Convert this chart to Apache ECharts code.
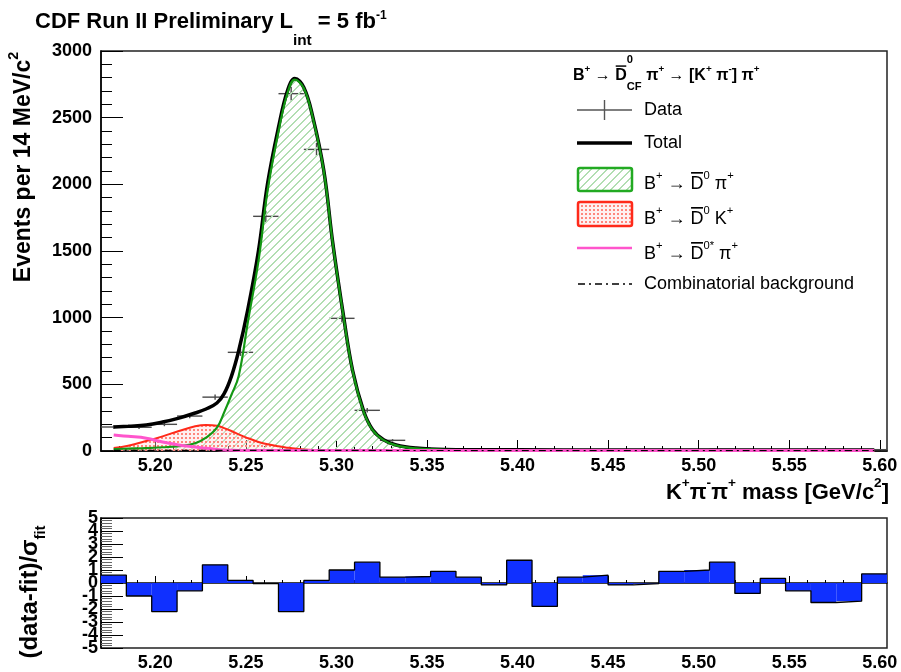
<!DOCTYPE html>
<html>
<head>
<meta charset="utf-8">
<script src="https://cdn.jsdelivr.net/npm/echarts@6/dist/echarts.min.js"></script>
<style>
  html, body { margin: 0; padding: 0; background: #fff; }
  #chart { width: 901px; height: 672px; }
</style>
</head>
<body>
<div id="chart"></div>
<script>
// binning of the K pi pi mass histogram: 31 bins of 14 MeV
const binLow = 5.170;
const binWidth = 0.014;
const xMax = 5.604;

const dataCounts = [180, 178, 200, 262, 404, 740, 1760, 2680, 2262, 995, 305, 80, 22, 14, 10, 8,
  12, 6, 10, 10, 8, 8, 10, 10, 12, 6, 9, 7, 5, 5, 10];
const dataErrors = [13, 13, 14, 16, 20, 27, 42, 52, 48, 32, 17, 9, 5, 4, 3, 3,
  3, 2, 3, 3, 3, 3, 3, 3, 3, 2, 3, 3, 2, 2, 3];
// (data-fit)/sigma per bin
const pulls = [0.6, -1.0, -2.2, -0.6, 1.4, 0.2, -0.05, -2.2, 0.2, 1.0, 1.6, 0.45, 0.5, 0.9, 0.45, -0.15,
  1.75, -1.8, 0.45, 0.6, -0.15, -0.05, 0.9, 1.0, 1.6, -0.8, 0.35, -0.6, -1.5, -1.4, 0.7];

// fit curves
const curveX = [5.177, 5.185, 5.195, 5.204, 5.213, 5.222, 5.228, 5.234, 5.238, 5.242,
  5.246, 5.251, 5.257, 5.262, 5.268, 5.273, 5.277, 5.282, 5.287, 5.293,
  5.298, 5.304, 5.309, 5.315, 5.320, 5.326, 5.333, 5.344, 5.36, 5.40,
  5.45, 5.50, 5.55, 5.597];
const totalFit = [180, 186, 195, 217, 247, 285, 315, 360, 430, 560,
  750, 1056, 1505, 2007, 2427, 2704, 2794, 2726, 2502, 2105,
  1558, 1004, 600, 300, 160, 85, 45, 22, 12, 9, 8, 8, 8, 8];
const sigFit = [15, 18, 22, 28, 36, 58, 100, 175, 290, 420,
  560, 960, 1430, 1955, 2395, 2685, 2785, 2720, 2496, 2100,
  1554, 1000, 596, 296, 157, 82, 42, 19, 9, 5, 4, 3, 2, 2];
const dkFit = [22, 40, 75, 110, 150, 185, 195, 190, 172, 150,
  125, 97, 68, 50, 35, 25, 18, 12, 8, 5,
  3, 2, 1, 1, 0.5, 0, 0, 0, 0, 0, 0, 0, 0, 0];
const dstarFit = [120, 110, 96, 67, 45, 30, 20, 12, 7, 5,
  4, 4, 4, 4, 4, 4, 4, 4, 4, 4,
  4, 4, 4, 4, 4, 4, 4, 4, 4, 4, 4, 4, 4, 4];
const combFit = [4, 4, 4, 4, 4, 4, 4, 4, 4, 4,
  4, 4, 4, 4, 4, 4, 4, 4, 4, 4,
  4, 4, 4, 4, 4, 4, 3.8, 3.7, 3.6, 3.5, 3.4, 3.3, 3.2, 3.1];

const xTickLabels = [5.20, 5.25, 5.30, 5.35, 5.40, 5.45, 5.50, 5.55, 5.60];
const pullLabelsOdd = [-5, -3, -1, 1, 3, 5];
const pullLabelsEven = [-4, -2, 0, 2, 4];

const FAM = '"Liberation Sans", Arial, Helvetica, sans-serif';
const binCenters = dataCounts.map((_, i) => +(binLow + binWidth * (i + 0.5)).toFixed(4));
const minorX = [];
for (let v = 5.18; v < xMax; v += 0.01) minorX.push(+v.toFixed(3));

// fill patterns
function hatchPattern() {
  const c = document.createElement('canvas');
  c.width = 8; c.height = 8;
  const g = c.getContext('2d');
  g.fillStyle = 'rgb(178,222,178)';
  for (let i = 0; i < 8; i++) {
    g.fillRect(i, 7 - i, 1, 1);
    g.fillRect(i, (8 - i) % 8, 1, 1);
  }
  return { image: c, repeat: 'repeat' };
}
function dotPattern() {
  const c = document.createElement('canvas');
  c.width = 4; c.height = 4;
  const g = c.getContext('2d');
  g.fillStyle = 'rgba(255,220,220,0.4)';
  g.fillRect(0, 0, 4, 4);
  g.fillStyle = 'rgb(255,135,125)';
  g.fillRect(1, 1, 2, 2);
  return { image: c, repeat: 'repeat' };
}

// tiny layout helper for labels with super/subscripts and overlines
const meas = document.createElement('canvas').getContext('2d');
function texLine(runs, size, weight) {
  let x = 0, held = 0;
  const els = [];
  runs.forEach(r => {
    const s = r.k ? size * r.k : size;
    const font = weight + ' ' + s.toFixed(1) + 'px ' + FAM;
    meas.font = font;
    const w = meas.measureText(r.t).width;
    const dy = (r.dy || 0) * size;
    els.push({ type: 'text', x: x, y: dy,
      style: { text: r.t, font: font, fill: '#000', textAlign: 'left', textVerticalAlign: 'middle' } });
    if (r.over) {
      els.push({ type: 'line', shape: { x1: x + 0.5, y1: dy - s * 0.62, x2: x + w - 0.5, y2: dy - s * 0.62 },
        style: { stroke: '#000', lineWidth: Math.max(1.2, size / 11) } });
    }
    if (r.hold) { held = w; } else { x += Math.max(w, held); held = 0; }
  });
  return { els: els, width: x };
}
function place(runs, size, weight, x, y, opts) {
  opts = opts || {};
  const t = texLine(runs, size, weight);
  let gx = x, gy = y;
  if (opts.right) gx = x - t.width;
  if (opts.vcenter) gy = y + t.width / 2;
  return { type: 'group', x: gx, y: gy, rotation: opts.rot || 0, children: t.els };
}
const SUP = { k: 0.62, dy: -0.45 };
const sup = t => Object.assign({ t: t }, SUP);

const hatch = hatchPattern();
const dots = dotPattern();
const GREEN = '#139813';
const RED = '#ff2a1a';
const PINK = '#ff55cc';

const legendEls = [
  place([{ t: 'B' }, sup('+'), { t: ' \u2192 ' }, { t: 'D', over: 1 }, { t: '0', k: 0.7, dy: -1.0, hold: 1 },
    { t: 'CF', k: 0.7, dy: 0.7 }, { t: ' \u03c0' }, sup('+'), { t: ' \u2192 [K' }, sup('+'), { t: ' \u03c0' },
    sup('-'), { t: '] \u03c0' }, sup('+')], 16, 'bold', 573, 76),
  { type: 'line', shape: { x1: 577, y1: 110, x2: 632, y2: 110 }, style: { stroke: '#555', lineWidth: 1.4 } },
  { type: 'line', shape: { x1: 604.5, y1: 100, x2: 604.5, y2: 120 }, style: { stroke: '#555', lineWidth: 1.4 } },
  place([{ t: 'Data' }], 18, 'normal', 644, 110),
  { type: 'line', shape: { x1: 577, y1: 143, x2: 632, y2: 143 }, style: { stroke: '#000', lineWidth: 3.5 } },
  place([{ t: 'Total' }], 18, 'normal', 644, 143),
  { type: 'rect', shape: { x: 578, y: 168, width: 54, height: 23, r: 2 },
    style: { fill: hatch, stroke: '#22aa22', lineWidth: 2.5 } },
  place([{ t: 'B' }, sup('+'), { t: ' \u2192 ' }, { t: 'D', over: 1 }, sup('0'), { t: ' \u03c0' }, sup('+')],
    18, 'normal', 644, 184),
  { type: 'rect', shape: { x: 578, y: 202, width: 54, height: 24, r: 2 },
    style: { fill: dots, stroke: RED, lineWidth: 2.5 } },
  place([{ t: 'B' }, sup('+'), { t: ' \u2192 ' }, { t: 'D', over: 1 }, sup('0'), { t: ' K' }, sup('+')],
    18, 'normal', 644, 219),
  { type: 'line', shape: { x1: 577, y1: 248, x2: 632, y2: 248 }, style: { stroke: PINK, lineWidth: 2.5 } },
  place([{ t: 'B' }, sup('+'), { t: ' \u2192 ' }, { t: 'D', over: 1 }, sup('0*'), { t: ' \u03c0' }, sup('+')],
    18, 'normal', 644, 254),
  { type: 'line', shape: { x1: 578, y1: 284, x2: 632, y2: 284 },
    style: { stroke: '#000', lineWidth: 1.4, lineDash: [7, 4, 2, 4] } },
  place([{ t: 'Combinatorial background' }], 18, 'normal', 644, 284)
];

const titleEls = [
  place([{ t: 'CDF Run II Preliminary L' }, { t: 'int', k: 0.7, dy: 0.85 }, { t: ' = 5 fb' },
    { t: '-1', k: 0.55, dy: -0.3 }], 22, 'bold', 35, 22),
  place([{ t: 'K' }, sup('+'), { t: '\u03c0' }, sup('-'), { t: '\u03c0' }, sup('+'), { t: ' mass [GeV/c' },
    sup('2'), { t: ']' }], 22, 'bold', 889, 493, { right: true }),
  place([{ t: 'Events per 14 MeV/c' }, sup('2')], 23, 'bold', 24, 167, { rot: Math.PI / 2, vcenter: true }),
  place([{ t: '(data-fit)/\u03c3' }, { t: 'fit', k: 0.62, dy: 0.45 }], 24, 'bold', 30, 592,
    { rot: Math.PI / 2, vcenter: true })
];

const curve = ys => curveX.map((x, i) => [x, ys[i]]);
const labelStyle = { fontFamily: FAM, fontWeight: 'bold', fontSize: 18, color: '#000' };

function renderCross(params, api) {
  const x = api.value(0), v = api.value(1), e = api.value(2);
  const l = api.coord([x - binWidth / 2, v]);
  const r = api.coord([x + binWidth / 2, v]);
  const t = api.coord([x, v + e]);
  const b = api.coord([x, Math.max(v - e, 0)]);
  const st = { stroke: '#4a4a4a', lineWidth: 1.4 };
  return { type: 'group', children: [
    { type: 'line', shape: { x1: l[0], y1: l[1], x2: r[0], y2: r[1] }, style: st },
    { type: 'line', shape: { x1: t[0], y1: t[1], x2: b[0], y2: b[1] }, style: st }
  ] };
}
function renderPull(params, api) {
  const x = api.value(0), p = api.value(1);
  const a = api.coord([x - binWidth / 2, 0]);
  const b = api.coord([x + binWidth / 2, p]);
  return { type: 'rect',
    shape: { x: a[0], y: Math.min(a[1], b[1]), width: b[0] - a[0], height: Math.abs(b[1] - a[1]) },
    style: { fill: '#1030ff' } };
}

const pullOutline = pulls.map((p, i) => [binLow + binWidth * i, p]);
pullOutline.push([xMax, pulls[pulls.length - 1]]);

function xAxisPair(grid, majorLen, minorLen, showLabels) {
  return [
    { type: 'value', gridIndex: grid, min: binLow, max: xMax, position: 'bottom',
      axisLine: { show: true, lineStyle: { color: '#000', width: 1.5 } },
      axisTick: { show: true, inside: true, length: majorLen, customValues: xTickLabels,
        lineStyle: { color: '#000', width: 1 } },
      axisLabel: Object.assign({ show: showLabels, margin: 6, customValues: xTickLabels,
        formatter: v => v.toFixed(2) }, labelStyle),
      splitLine: { show: false } },
    { type: 'value', gridIndex: grid, min: binLow, max: xMax, position: 'bottom',
      axisLine: { show: false },
      axisTick: { show: true, inside: true, length: minorLen, customValues: minorX,
        lineStyle: { color: '#000', width: 1 } },
      axisLabel: { show: false }, splitLine: { show: false } }
  ];
}

function pullLabelAxis(values) {
  return { type: 'value', gridIndex: 1, min: -5, max: 5, position: 'left',
    axisLine: { show: false }, axisTick: { show: false }, splitLine: { show: false },
    axisLabel: Object.assign({}, labelStyle, { margin: 3, customValues: values, formatter: v => String(v) }) };
}

const chart = echarts.init(document.getElementById('chart'), null, { renderer: 'canvas' });
chart.setOption({
  animation: false,
  backgroundColor: '#fff',
  grid: [
    { left: 101, top: 51, width: 786, height: 400, show: true, borderColor: '#222', borderWidth: 1.5 },
    { left: 101, top: 518, width: 786, height: 134, show: true, borderColor: '#222', borderWidth: 1.5 }
  ],
  xAxis: [].concat(xAxisPair(0, 11, 5, true), xAxisPair(1, 7, 3, true)),
  yAxis: [
    { type: 'value', gridIndex: 0, min: 0, max: 3000, interval: 500,
      axisLine: { show: true, lineStyle: { color: '#000', width: 1.5 } },
      axisTick: { show: true, inside: true, length: 22, lineStyle: { color: '#000' } },
      minorTick: { show: true, splitNumber: 5, length: 11, lineStyle: { color: '#000' } },
      axisLabel: Object.assign({ margin: 9, formatter: v => String(v) }, labelStyle),
      splitLine: { show: false } },
    { type: 'value', gridIndex: 1, min: -5, max: 5, interval: 1,
      axisLine: { show: true, lineStyle: { color: '#000', width: 1.5 } },
      axisTick: { show: true, inside: true, length: 22, lineStyle: { color: '#000' } },
      minorTick: { show: true, splitNumber: 5, length: 11, lineStyle: { color: '#666' } },
      axisLabel: { show: false },
      splitLine: { show: false } },
    pullLabelAxis(pullLabelsOdd),
    pullLabelAxis(pullLabelsEven)
  ],
  graphic: titleEls.concat(legendEls),
  series: [
    { name: 'sigFill', type: 'line', xAxisIndex: 0, yAxisIndex: 0, data: curve(sigFit),
      smooth: 0.4, showSymbol: false, lineStyle: { width: 0 },
      areaStyle: { color: hatch, opacity: 1 } },
    { name: 'B+ -> D0 K+', type: 'line', xAxisIndex: 0, yAxisIndex: 0, data: curve(dkFit),
      smooth: 0.4, showSymbol: false,
      lineStyle: { color: RED, width: 2 }, areaStyle: { color: dots, opacity: 1 } },
    { name: 'Data', type: 'custom', xAxisIndex: 0, yAxisIndex: 0, renderItem: renderCross,
      data: binCenters.map((c, i) => [c, dataCounts[i], dataErrors[i]]), encode: { x: 0, y: 1 } },
    { name: 'Total', type: 'line', xAxisIndex: 0, yAxisIndex: 0, data: curve(totalFit),
      smooth: 0.4, showSymbol: false, lineStyle: { color: '#000', width: 3.5 } },
    { name: 'B+ -> D0 pi+', type: 'line', xAxisIndex: 0, yAxisIndex: 0, data: curve(sigFit),
      smooth: 0.4, showSymbol: false, lineStyle: { color: GREEN, width: 2.2 } },
    { name: 'B+ -> D0* pi+', type: 'line', xAxisIndex: 0, yAxisIndex: 0, data: curve(dstarFit),
      smooth: 0.4, showSymbol: false, lineStyle: { color: PINK, width: 3 } },
    { name: 'Combinatorial background', type: 'line', xAxisIndex: 0, yAxisIndex: 0, data: curve(combFit),
      smooth: 0.4, showSymbol: false, lineStyle: { color: '#000', width: 1.2, type: [7, 4, 2, 4] } },
    { name: 'pullFill', type: 'custom', xAxisIndex: 2, yAxisIndex: 1, renderItem: renderPull,
      data: binCenters.map((c, i) => [c, pulls[i]]), encode: { x: 0, y: 1 } },
    { name: 'pullLine', type: 'line', xAxisIndex: 2, yAxisIndex: 1, data: pullOutline, step: 'end',
      showSymbol: false, lineStyle: { color: '#000', width: 1.3 } }
  ]
});
</script>
</body>
</html>
